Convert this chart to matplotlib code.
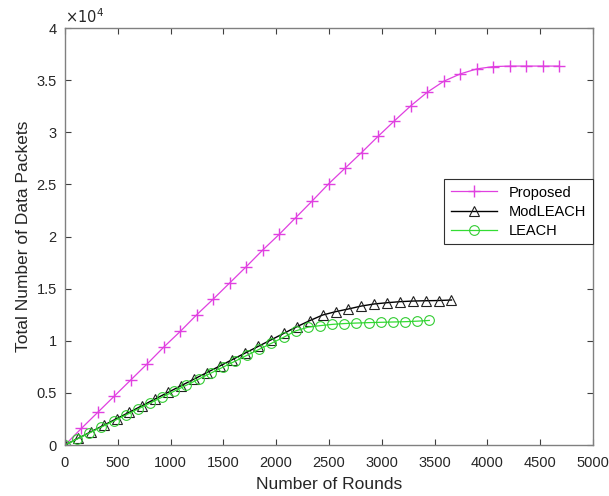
import numpy as np
import matplotlib
matplotlib.use("Agg")
import matplotlib.pyplot as plt
from matplotlib.ticker import FuncFormatter

plt.rcParams['font.family'] = ['Liberation Sans', 'DejaVu Sans']

# ------------------------------------ data ------------------------------------
# Proposed: markers every 156 rounds
proposed_rounds = [156 * i for i in range(31)]
proposed_packets = [0, 1600, 3150, 4700, 6250, 7800, 9400, 10900, 12500, 14000,
                    15550, 17100, 18700, 20200, 21800, 23400, 25050, 26550, 28050, 29600,
                    31100, 32550, 33850, 34900, 35600, 36080, 36300, 36350, 36350, 36350,
                    36350]

# ModLEACH: markers every 122 rounds
modleach_rounds = [122 * i for i in range(31)]
modleach_packets = [0, 630, 1260, 1890, 2520, 3150, 3780, 4420, 5050, 5680,
                    6310, 6940, 7570, 8200, 8830, 9460, 10090, 10720, 11350, 11930,
                    12470, 12790, 13050, 13330, 13530, 13650, 13750, 13810, 13840, 13860,
                    13910]

# LEACH: markers every 115 rounds
leach_rounds = [115 * i for i in range(31)]
leach_packets = [0, 574, 1148, 1722, 2296, 2870, 3444, 4018, 4592, 5166,
                 5740, 6314, 6888, 7462, 8036, 8610, 9184, 9758, 10330, 10950,
                 11300, 11450, 11570, 11650, 11700, 11740, 11770, 11800, 11830, 11880,
                 11950]

x_ticks = list(range(0, 5001, 500))
y_ticks = [0, 5000, 10000, 15000, 20000, 25000, 30000, 35000, 40000]

# ------------------------------------ plot ------------------------------------
fig = plt.figure(figsize=(6.09, 4.96), dpi=100)
ax = fig.add_axes([0.1067, 0.1028, 0.8670, 0.8407])

ax.plot(proposed_rounds, proposed_packets, color='#e040e0', lw=0.9,
        marker='+', ms=9, mew=1.0, label='Proposed')
ax.plot(modleach_rounds, modleach_packets, color='black', lw=1.0,
        marker='^', ms=7, mfc='none', mec='#202020', mew=0.8, label='ModLEACH')
ax.plot(leach_rounds, leach_packets, color='#33dd33', lw=0.9,
        marker='o', ms=7, mfc='none', mec='#33cc33', mew=0.8, label='LEACH')

ax.set_xlim(0, 5000)
ax.set_ylim(0, 40000)
ax.set_xticks(x_ticks)
ax.set_yticks(y_ticks)
ax.yaxis.set_major_formatter(FuncFormatter(lambda v, p: f"{v / 1e4:g}"))

ax.tick_params(direction='in', top=True, right=True, length=4, width=0.8,
               colors='#404040', labelsize=10.5, labelcolor='#262626')
ax.tick_params(axis='x', pad=8)
ax.tick_params(axis='y', pad=6)
for s in ax.spines.values():
    s.set_color('#808080')
    s.set_linewidth(1.0)

ax.text(0.0, 1.005, r'$\times10^{4}$', transform=ax.transAxes, ha='left', va='bottom',
        fontsize=10.5, color='#262626')

ax.set_xlabel('Number of Rounds', fontsize=12.5, color='#262626', labelpad=5)
ax.set_ylabel('Total Number of Data Packets', fontsize=12.5, color='#262626', labelpad=4)

leg = ax.legend(loc='upper right', bbox_to_anchor=(1.0, 0.638), fontsize=10.5,
                fancybox=False, framealpha=1, edgecolor='#303030',
                handlelength=3.2, borderaxespad=0, borderpad=0.45, labelspacing=0.35)
leg.get_frame().set_linewidth(0.8)

fig.savefig('out.png', dpi=100)
